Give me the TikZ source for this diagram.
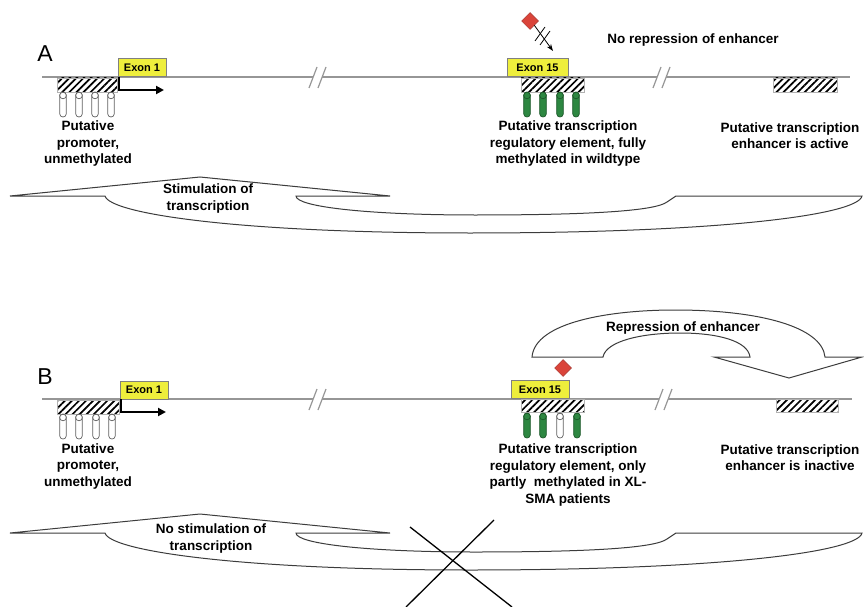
\documentclass[tikz,border=0pt]{standalone}
\usepackage{fontspec}
\setmainfont{Liberation Sans}
\usetikzlibrary{patterns.meta,shapes.geometric,arrows.meta}

\definecolor{dnagray}{RGB}{150,150,150}
\definecolor{exonyellow}{RGB}{238,238,60}
\definecolor{methgreen}{RGB}{45,135,65}
\definecolor{diamondred}{RGB}{218,68,58}
\definecolor{outl}{RGB}{60,60,60}

\tikzset{
  dna/.style={draw=dnagray, line width=1.2pt},
  brk/.style={draw=dnagray, line width=1.2pt},
  hatchbox/.style={draw=gray!60, line width=0.6pt, inner sep=0pt,
    pattern={Lines[angle=45,distance=5pt,line width=1.7pt]}},
  exonbox/.style={draw=gray, fill=exonyellow, line width=0.8pt, inner sep=0pt,
    font=\bfseries\fontsize{11}{12}\selectfont, minimum height=18pt},
  lbl/.style={font=\bfseries\fontsize{13.5}{16.5}\selectfont, align=center, inner sep=0pt},
  panel/.style={font=\fontsize{23}{26}\selectfont, inner sep=0pt},
  tss/.style={line width=2pt, -{Triangle[length=8pt,width=8pt]}},
  openmeth/.style={draw=gray!75!black, fill=white, line width=0.7pt},
  fullmeth/.style={draw=methgreen!65!black, fill=methgreen, line width=0.7pt},
  bigarrow/.style={draw=outl, fill=white, line width=1pt, line join=miter},
  mdiamond/.style={diamond, fill=diamondred, draw=diamondred!75!black, line width=0.5pt,
    minimum width=17pt, minimum height=17pt, inner sep=0pt},
  pics/lolli/.style={code={
    \draw[#1, rounded corners=3.2pt] (-3.3,0) rectangle (3.3,25);
    \draw[#1] (0,3.5) circle (3.3pt);
  }},
  pics/stimarrow/.style={code={
    \draw[bigarrow] (10,196) -- (200,177) -- (390,196) -- (296,196)
      .. controls (296,207) and (370,215) .. (475,215)
      .. controls (590,215) and (655,211) .. (667,202) -- (676,196) -- (862,196)
      .. controls (858,215) and (720,233) .. (470,233)
      .. controls (240,233) and (110,214) .. (105,196) -- cycle;
  }},
}

\begin{document}
\begin{tikzpicture}[x=1pt,y=-1pt]
\useasboundingbox (0,0) rectangle (864,607);

%%%%%%%%%%%%%%%% Panel A
\node[panel] (labA) at (45,54) {A};
% DNA line with breaks
\draw[dna] (42,77) -- (313,77);
\draw[dna] (322,77) -- (657,77);
\draw[dna] (666,77) -- (850,77);
\draw[brk] (309,88) -- (317,67);
\draw[brk] (318,88) -- (326,67);
\draw[brk] (653,88) -- (661,67);
\draw[brk] (662,88) -- (670,67);

% promoter
\node[hatchbox, minimum width=60pt, minimum height=14pt] (promA) at (87,85) {};
\pic at (63,92) {lolli=openmeth};
\pic at (79,92) {lolli=openmeth};
\pic at (95,92) {lolli=openmeth};
\pic at (111,92) {lolli=openmeth};
\node[exonbox, minimum width=48pt] (ex1A) at (142,67.5) {Exon 1};
\coordinate (tssA1) at (119,77);
\coordinate (tssA2) at (119,90);
\coordinate (tssA3) at (164,90);
\draw[tss] (tssA1) -- (tssA2) -- (tssA3);
\node[lbl] (ptA) at (88,144) {Putative\\promoter,\\unmethylated};

% regulatory element
\node[hatchbox, minimum width=63pt, minimum height=14pt] (regA) at (552.5,85) {};
\pic at (527,92) {lolli=fullmeth};
\pic at (543,92) {lolli=fullmeth};
\pic at (560,92) {lolli=fullmeth};
\pic at (576,92) {lolli=fullmeth};
\node[exonbox, minimum width=61pt] (ex15A) at (537.5,67.5) {Exon 15};
\node[mdiamond] (dA) at (530,21) {};
\coordinate (dtipA) at (553,51);
\draw[line width=0.8pt, -{Stealth[length=7pt,width=5pt]}] (dA.south east) -- (dtipA);
\draw[line width=0.8pt] (535,41) -- (545,27);
\draw[line width=0.8pt] (540,45) -- (550,31);
\node[lbl] (noRep) at (693,40) {No repression of enhancer};
\node[lbl] (regtxtA) at (568,144) {Putative transcription\\regulatory element, fully\\methylated in wildtype};

% enhancer
\node[hatchbox, minimum width=64pt, minimum height=14pt] (enhA) at (805,85) {};
\node[lbl] (enhtxtA) at (790,135.5) {Putative transcription\\enhancer is active};

% stimulation arrow
\pic at (0,0) {stimarrow};
\node[lbl] (stimA) at (208,198.5) {Stimulation of\\transcription};

%%%%%%%%%%%%%%%% Panel B
\node[panel] (labB) at (45,377) {B};
\draw[dna] (42,399) -- (313,399);
\draw[dna] (322,399) -- (659,399);
\draw[dna] (668,399) -- (852,399);
\draw[brk] (309,410) -- (317,389);
\draw[brk] (318,410) -- (326,389);
\draw[brk] (655,410) -- (663,389);
\draw[brk] (664,410) -- (672,389);

% promoter
\node[hatchbox, minimum width=62pt, minimum height=14pt] (promB) at (88.5,407) {};
\pic at (63,414) {lolli=openmeth};
\pic at (79,414) {lolli=openmeth};
\pic at (96,414) {lolli=openmeth};
\pic at (112,414) {lolli=openmeth};
\node[exonbox, minimum width=48pt] (ex1B) at (144,390) {Exon 1};
\coordinate (tssB1) at (121,399);
\coordinate (tssB2) at (121,412);
\coordinate (tssB3) at (166,412);
\draw[tss] (tssB1) -- (tssB2) -- (tssB3);
\node[lbl] (ptB) at (88,466.5) {Putative\\promoter,\\unmethylated};

% regulatory element
\node[hatchbox, minimum width=63pt, minimum height=13pt] (regB) at (552.5,406) {};
\pic at (527,413) {lolli=fullmeth};
\pic at (543,413) {lolli=fullmeth};
\pic at (560,413) {lolli=openmeth};
\pic at (577,413) {lolli=fullmeth};
\node[exonbox, minimum width=58pt] (ex15B) at (540,389.5) {Exon 15};
\node[mdiamond] (dB) at (563,368) {};
\node[lbl] (regtxtB) at (568,475) {Putative transcription\\regulatory element, only\\partly\ \ methylated in XL-\\SMA patients};

% enhancer
\node[hatchbox, minimum width=62pt, minimum height=13pt] (enhB) at (807,406) {};
\node[lbl] (enhtxtB) at (790,457.5) {Putative transcription\\enhancer is inactive};

% repression arrow
\draw[bigarrow] (532,357)
  .. controls (535,322) and (610,310) .. (675,310)
  .. controls (760,310) and (822,327) .. (825,357)
  -- (862,357) -- (789,378) -- (714,357) -- (750,357)
  .. controls (748,341) and (718,333) .. (680,333)
  .. controls (642,333) and (606,341) .. (603,357) -- cycle;
\node[lbl] (repB) at (683,328) {Repression of enhancer};

% no stimulation arrow
\pic at (0,337) {stimarrow};
\node[lbl] (stimB) at (211,538.5) {No stimulation of\\transcription};

% cross
\coordinate (xa1) at (410,527);
\coordinate (xa2) at (512,607);
\coordinate (xb1) at (494,520);
\coordinate (xb2) at (406,607);
\draw[line width=1.3pt] (xa1) -- (xa2);
\draw[line width=1.3pt] (xb1) -- (xb2);
\end{tikzpicture}
\end{document}
